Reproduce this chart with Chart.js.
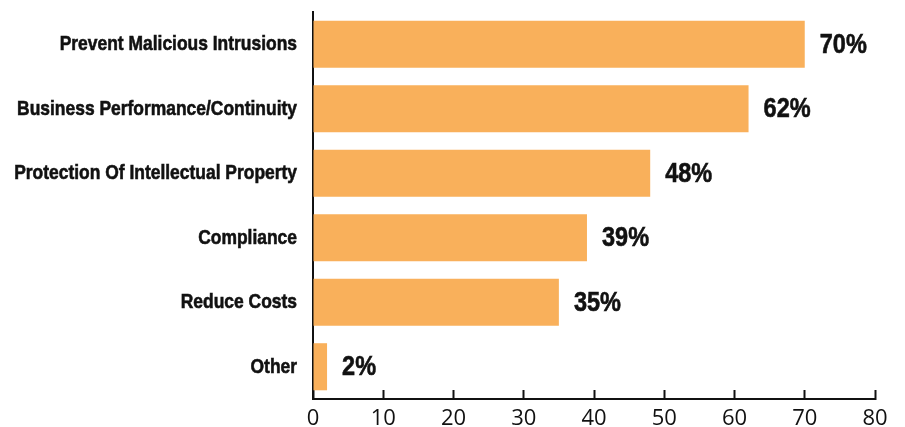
<!DOCTYPE html>
<html lang="en">
  <head>
    <meta charset="UTF-8" />
    <script src="https://cdn.jsdelivr.net/npm/chart.js@4.4.1/dist/chart.umd.min.js"></script>
    <title>Reasons</title>
    <style>
      body {
        margin: 0;
        padding: 0;
        background: #fff;
      }
    </style>
  </head>
  <body>
    <canvas id="chart" width="905" height="427"></canvas>
    <script>
      const categories = [
        'Prevent Malicious Intrusions',
        'Business Performance/Continuity',
        'Protection Of Intellectual Property',
        'Compliance',
        'Reduce Costs',
        'Other',
      ]
      const values = [70, 62, 48, 39, 35, 2]
      const xTicks = [0, 10, 20, 30, 40, 50, 60, 70, 80]

      // no narrow font installed, so squeeze Liberation Sans Bold sideways
      const boldFont = (size) => 'bold ' + size + 'px "Liberation Sans", Arial, sans-serif'

      const narrowText = (ctx, text, x, y, squeeze) => {
        ctx.save()
        ctx.translate(x, y)
        ctx.scale(squeeze, 1)
        ctx.strokeText(text, 0, 0)
        ctx.fillText(text, 0, 0)
        ctx.restore()
      }

      // category names at the y ticks, and percent labels beside bars
      const textLayer = {
        id: 'textLayer',
        afterDraw(chart) {
          const ctx = chart.ctx
          const yScale = chart.scales.y
          const meta = chart.getDatasetMeta(0)
          ctx.save()
          ctx.fillStyle = '#111'
          ctx.strokeStyle = '#111'
          ctx.lineWidth = 0.6
          ctx.textBaseline = 'middle'

          ctx.font = boldFont(21)
          ctx.textAlign = 'right'
          yScale.ticks.forEach((tick, i) => {
            narrowText(ctx, categories[i], yScale.right - 16, yScale.getPixelForTick(i), 0.83)
          })

          ctx.font = boldFont(28)
          ctx.textAlign = 'left'
          meta.data.forEach((bar, i) => {
            narrowText(ctx, values[i] + '%', bar.x + 15, bar.y + 1, 0.84)
          })
          ctx.restore()
        },
      }

      new Chart(document.getElementById('chart'), {
        type: 'bar',
        data: {
          labels: categories,
          datasets: [
            {
              data: values,
              backgroundColor: '#F9B05B',
              borderWidth: 0,
              categoryPercentage: 1,
              barPercentage: 0.73,
            },
          ],
        },
        plugins: [textLayer],
        options: {
          indexAxis: 'y',
          responsive: false,
          animation: false,
          layout: {
            padding: { top: 12, right: 30, bottom: 0, left: 0 },
          },
          plugins: {
            legend: { display: false },
            tooltip: { enabled: false },
          },
          scales: {
            x: {
              min: 0,
              max: 80,
              afterBuildTicks: (scale) => {
                scale.ticks = xTicks.map((v) => ({ value: v }))
              },
              afterFit: (scale) => {
                scale.height = 28
              },
              grid: {
                drawOnChartArea: false,
                drawTicks: true,
                tickLength: -9,
                tickWidth: 2,
                tickColor: '#111',
              },
              border: { color: '#111', width: 2 },
              ticks: {
                padding: 16,
                color: '#111',
                font: { family: '"Open Sans", sans-serif', size: 22 },
              },
            },
            y: {
              afterFit: (scale) => {
                scale.width = 313
                scale.paddingTop = 0
                scale.paddingBottom = 0
              },
              grid: { drawOnChartArea: false, drawTicks: false },
              border: { color: '#111', width: 2 },
              ticks: { display: false },
            },
          },
        },
      })
    </script>
  </body>
</html>
